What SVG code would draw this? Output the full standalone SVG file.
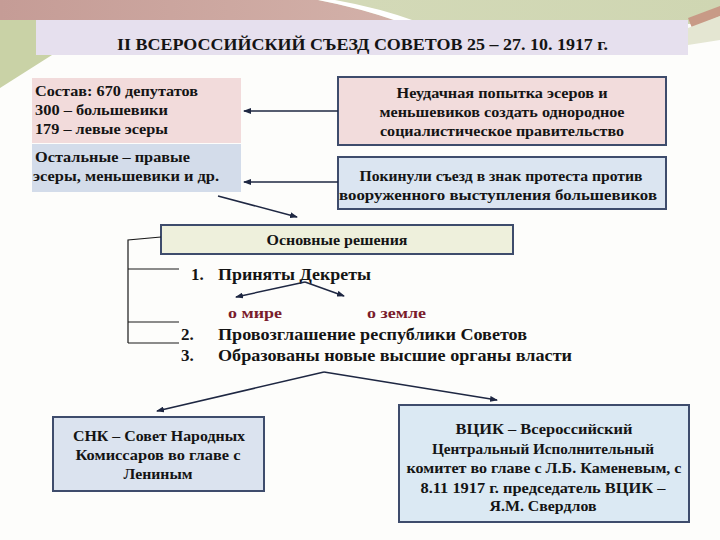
<svg xmlns="http://www.w3.org/2000/svg" width="720" height="540" viewBox="0 0 720 540" font-family="'Liberation Serif', 'Times New Roman', 'DejaVu Serif', serif">
<style>
.t{font-family:'Liberation Serif','Times New Roman','DejaVu Serif',serif;font-weight:bold;fill:#141414}
.c{text-anchor:middle}
.box{stroke:#3e4c6c;stroke-width:2}
.ln{stroke:#1e2742;stroke-width:1.5;fill:none}
.br{stroke:#1a1a1a;stroke-width:1.2;fill:none}
.red{fill:#7a1c2c}
</style>
<defs>
<marker id="ah" markerWidth="8" markerHeight="6" refX="7" refY="3" orient="auto" markerUnits="userSpaceOnUse">
<path d="M0,0 L8,3 L0,6 z" fill="#1e2742"/>
</marker>
<linearGradient id="pk" x1="0" y1="0" x2="1" y2="0">
<stop offset="0" stop-color="#c59c96"/>
<stop offset="1" stop-color="#d3b1a9"/>
</linearGradient>
<linearGradient id="gr" x1="0" y1="0" x2="1" y2="0">
<stop offset="0" stop-color="#d7dcbc"/>
<stop offset="1" stop-color="#cfd6b2"/>
</linearGradient>
</defs>
<rect width="720" height="540" fill="#fdfdfb"/>
<g id="background">
<rect x="0" y="0" width="720" height="24" fill="url(#gr)"/>
<path d="M0,0 L318,0 Q360,8 400,22 L0,22 Z" fill="url(#pk)"/>
<path d="M318,0 L335,0 Q380,8 418,22 L400,22 Q360,8 318,0 Z" fill="#ffffff"/>
<path d="M0,20 L40,20 L40,55 L52,55 L0,88 Z" fill="#c9d2a6"/>
<path d="M688,18 L720,6 L720,16 L692,28 Z" fill="#c89a86"/>
<path d="M688,28 L720,16 L720,40 L688,45 Z" fill="#e4e6d2"/>
</g>
<g id="title">
<rect x="36" y="20" width="652" height="35" fill="#e6e0ee"/>
<text class="t" x="117" y="50" font-size="16.5" fill="#1a2030" textLength="491" lengthAdjust="spacingAndGlyphs">II ВСЕРОССИЙСКИЙ СЪЕЗД СОВЕТОВ 25 – 27. 10. 1917 г.</text>
</g>
<g id="composition">
<rect x="32" y="78" width="209" height="65" fill="#f2dbdb"/>
<text class="t" font-size="15" x="35" y="96" textLength="163" lengthAdjust="spacingAndGlyphs">Состав: 670 депутатов</text>
<text class="t" font-size="15" x="35" y="115" textLength="133" lengthAdjust="spacingAndGlyphs">300 – большевики</text>
<text class="t" font-size="15" x="35" y="134" textLength="133" lengthAdjust="spacingAndGlyphs">179 – левые эсеры</text>
</g>
<g id="others">
<rect x="32" y="144" width="209" height="48" fill="#d3dcea"/>
<text class="t" font-size="15" x="35" y="162" textLength="155" lengthAdjust="spacingAndGlyphs">Остальные – правые</text>
<text class="t" font-size="15" x="33" y="181" textLength="186" lengthAdjust="spacingAndGlyphs">эсеры, меньшевики и др.</text>
</g>
<g id="attempt">
<rect class="box" x="338" y="77" width="328" height="68" fill="#f2dcdc"/>
<text class="t c" font-size="14.5" x="502" y="98" textLength="211" lengthAdjust="spacingAndGlyphs">Неудачная попытка  эсеров и</text>
<text class="t c" font-size="14.5" x="502" y="117" textLength="245" lengthAdjust="spacingAndGlyphs">меньшевиков создать однородное</text>
<text class="t c" font-size="14.5" x="502" y="136" textLength="244" lengthAdjust="spacingAndGlyphs">социалистическое правительство</text>
</g>
<g id="left-congress">
<rect class="box" x="338" y="157" width="328" height="52" fill="#dbe5f1"/>
<text class="t c" font-size="14.5" x="501" y="181" textLength="283" lengthAdjust="spacingAndGlyphs">Покинули съезд в знак протеста против</text>
<text class="t c" font-size="14.5" x="498" y="200" textLength="318" lengthAdjust="spacingAndGlyphs">вооруженного выступления большевиков</text>
</g>
<g id="decisions">
<rect class="box" x="161" y="225" width="352" height="29" fill="#eef0dc"/>
<text class="t c" font-size="14.5" x="337" y="245" textLength="141" lengthAdjust="spacingAndGlyphs">Основные решения</text>
</g>
<g id="list">
<text class="t" font-size="17" x="191" y="280">1.</text>
<text class="t" font-size="17" x="218" y="280" textLength="153" lengthAdjust="spacingAndGlyphs">Приняты Декреты</text>
<text class="t red" font-size="15" x="228" y="318" textLength="54" lengthAdjust="spacingAndGlyphs">о мире</text>
<text class="t red" font-size="15" x="367" y="318" textLength="59" lengthAdjust="spacingAndGlyphs">о земле</text>
<text class="t" font-size="17" x="181" y="340">2.</text>
<text class="t" font-size="17" x="218" y="340" textLength="309" lengthAdjust="spacingAndGlyphs">Провозглашение республики Советов</text>
<text class="t" font-size="17" x="181" y="361">3.</text>
<text class="t" font-size="17" x="218" y="361" textLength="354" lengthAdjust="spacingAndGlyphs">Образованы новые высшие органы власти</text>
</g>
<g id="snk">
<rect class="box" x="53" y="417" width="211" height="74" fill="#dbe3ef"/>
<text class="t c" font-size="15" x="159" y="441" textLength="172" lengthAdjust="spacingAndGlyphs">СНК – Совет Народных</text>
<text class="t c" font-size="15" x="158" y="460" textLength="165" lengthAdjust="spacingAndGlyphs">Комиссаров во главе с</text>
<text class="t c" font-size="15" x="158" y="479" textLength="69" lengthAdjust="spacingAndGlyphs">Лениным</text>
</g>
<g id="vcik">
<rect class="box" x="399" y="405" width="290" height="117" fill="#dbe9f3"/>
<text class="t c" font-size="14.5" x="544" y="434" textLength="177" lengthAdjust="spacingAndGlyphs">ВЦИК – Всероссийский</text>
<text class="t c" font-size="14.5" x="543" y="454" textLength="222" lengthAdjust="spacingAndGlyphs">Центральный Исполнительный</text>
<text class="t c" font-size="14.5" x="544" y="473" textLength="275" lengthAdjust="spacingAndGlyphs">комитет во главе с Л.Б. Каменевым, с</text>
<text class="t c" font-size="14.5" x="543" y="493" textLength="245" lengthAdjust="spacingAndGlyphs">8.11 1917 г. председатель ВЦИК –</text>
<text class="t c" font-size="14.5" x="543" y="511" textLength="107" lengthAdjust="spacingAndGlyphs">Я.М. Свердлов</text>
</g>
<g id="connectors">
<line class="ln" x1="338" y1="111" x2="244" y2="111" marker-end="url(#ah)"/>
<line class="ln" x1="338" y1="182" x2="244" y2="182" marker-end="url(#ah)"/>
<line class="ln" x1="218" y1="196" x2="297" y2="217" marker-end="url(#ah)"/>
<line class="ln" x1="305" y1="282" x2="236" y2="297" marker-end="url(#ah)"/>
<line class="ln" x1="305" y1="282" x2="344" y2="296" marker-end="url(#ah)"/>
<line class="ln" x1="324" y1="372" x2="157" y2="411" marker-end="url(#ah)"/>
<line class="ln" x1="324" y1="372" x2="497" y2="400" marker-end="url(#ah)"/>
<polyline class="br" points="161,237 128,240 128,343"/>
<line class="br" x1="128" y1="269" x2="179" y2="269"/>
<line class="br" x1="128" y1="322" x2="179" y2="322"/>
<line class="br" x1="128" y1="343" x2="179" y2="343"/>
</g>
</svg>
